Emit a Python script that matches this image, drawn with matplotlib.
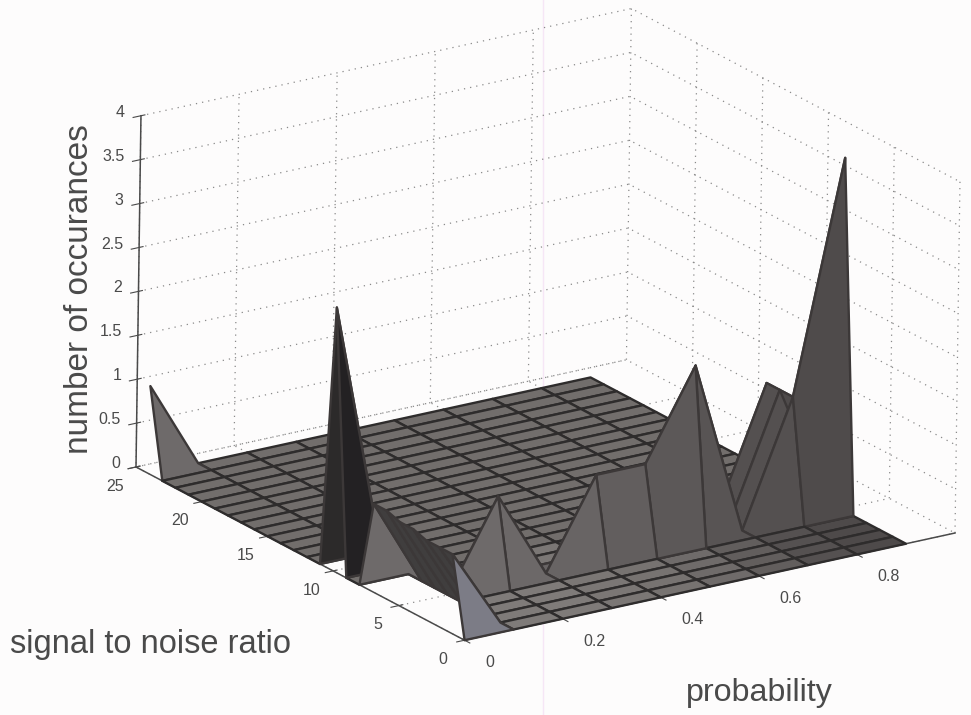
import matplotlib
matplotlib.use("Agg")
import matplotlib.pyplot as plt
from matplotlib.colors import to_rgba
from matplotlib.lines import Line2D
from mpl_toolkits.mplot3d import proj3d
import numpy as np

plt.rcParams['font.family'] = ['Liberation Sans', 'DejaVu Sans']
plt.rcParams['grid.linestyle'] = (0, (1, 4))
plt.rcParams['grid.color'] = '#8a8a8a'
plt.rcParams['grid.linewidth'] = 0.9
plt.rcParams['axes.edgecolor'] = '#4a4a4a'
plt.rcParams['axes.linewidth'] = 1.1
plt.rcParams['xtick.color'] = '#4a4a4a'
plt.rcParams['ytick.color'] = '#4a4a4a'

# values
probability = [0.0, 0.1, 0.2, 0.3, 0.4, 0.5, 0.6, 0.7, 0.8, 0.9]
snr = list(range(25))
occurrences = [
    [0, 0, 0, 0, 0, 0, 0, 0, 0, 0],
    [0.9, 0, 0, 0, 0, 0, 0, 0, 0, 0],
    [0.9, 0, 0, 0, 0, 0, 0, 0, 0, 0],
    [0.9, 0, 0, 0, 0, 0, 0, 0, 0, 0],
    [0.95, 0, 0, 0, 0, 0, 0, 0, 0, 0],
    [0.95, 0, 1, 0, 1, 1, 2, 0, 1.4, 4],
    [1, 0, 0, 0, 0, 0, 0, 0, 1.4, 0],
    [1, 0, 0, 0, 0, 0, 0, 0, 1.4, 0],
    [0, 0, 0, 0, 0, 0, 0, 0, 0, 0],
    [0, 0, 0, 0, 0, 0, 0, 0, 0, 0],
    [3, 0, 0, 0, 0, 0, 0, 0, 0, 0],
    [0, 0, 0, 0, 0, 0, 0, 0, 0, 0],
    [0, 0, 0, 0, 0, 0, 0, 0, 0, 0],
    [0, 0, 0, 0, 0, 0, 0, 0, 0, 0],
    [0, 0, 0, 0, 0, 0, 0, 0, 0, 0],
    [0, 0, 0, 0, 0, 0, 0, 0, 0, 0],
    [0, 0, 0, 0, 0, 0, 0, 0, 0, 0],
    [0, 0, 0, 0, 0, 0, 0, 0, 0, 0],
    [0, 0, 0, 0, 0, 0, 0, 0, 0, 0],
    [0, 0, 0, 0, 0, 0, 0, 0, 0, 0],
    [0, 0, 0, 0, 0, 0, 0, 0, 0, 0],
    [0, 0, 0, 0, 0, 0, 0, 0, 0, 0],
    [0, 0, 0, 0, 0, 0, 0, 0, 0, 0],
    [0, 0, 0, 0, 0, 0, 0, 0, 0, 0],
    [1, 0, 0, 0, 0, 0, 0, 0, 0, 0],
]
x_ticks = [0, 0.2, 0.4, 0.6, 0.8]
x_tick_labels = ['0', '0.2', '0.4', '0.6', '0.8']
y_ticks = [0, 5, 10, 15, 20, 25]
z_ticks = [0, 0.5, 1, 1.5, 2, 2.5, 3, 3.5, 4]
z_tick_labels = ['0', '0.5', '1', '1.5', '2', '2.5', '3', '3.5', '4']

# the scan gets darker towards the front right corner
floor_shades = ['#7f7b79', '#7f7b79', '#7f7b79', '#7b7775', '#777371', '#6f6b6a', '#625e5d', '#555151', '#4e4a4a']
raised_shades = ['#6e6a6a', '#6e6a6a', '#6c6868', '#686464', '#625e5e', '#5c5858', '#585454', '#545050', '#4f4b4b']
back_floor = '#726e6c'

W, H = 971, 715
paper = '#fdfcfc'

fig = plt.figure(figsize=(W / 100, H / 100), dpi=100, facecolor=paper)
ax = fig.add_axes([0, 0, 1, 1], projection='3d', proj_type='ortho', facecolor='none')
ax.view_init(elev=20.17, azim=-124.1, roll=-0.81)
ax.set_box_aspect((590, 590, 374))

X, Y = np.meshgrid(probability, snr)
Z = np.array(occurrences, dtype=float)

colors = np.zeros(Z.shape + (4,))
edges = np.zeros((Z.shape[0] - 1, Z.shape[1] - 1, 4))
for i in range(Z.shape[0] - 1):
    for j in range(Z.shape[1] - 1):
        if Z[i:i + 2, j:j + 2].max() > 0:
            colors[i, j] = to_rgba(raised_shades[j])
            edges[i, j] = to_rgba('#3c3838')
        else:
            colors[i, j] = to_rgba(floor_shades[j] if i < 8 else back_floor)
            edges[i, j] = to_rgba('#2e2c2c')
colors[9, 0] = to_rgba('#232123')
colors[10, 0] = to_rgba('#2c2a2a')
colors[1:7, 0] = to_rgba('#403e3e')
colors[0, 0] = to_rgba('#7c7c86')

surf = ax.plot_surface(X, Y, Z, rstride=1, cstride=1, facecolors=colors, shade=False,
                       antialiased=True)
surf.set_edgecolor(edges.reshape(-1, 4))
surf.set_linewidth(1.7)

ax.set_xlim(0, 1, view_margin=0)
ax.set_ylim(0, 25, view_margin=0)
ax.set_zlim(0, 4, view_margin=0)
ax.set_xticks(x_ticks)
ax.set_xticklabels(x_tick_labels)
ax.set_yticks(y_ticks)
ax.set_zticks(z_ticks)
ax.set_zticklabels(z_tick_labels)
ax.tick_params(axis='x', labelsize=11.5, labelcolor='#4a4a4a', pad=6)
ax.tick_params(axis='y', labelsize=11.5, labelcolor='#4a4a4a', pad=7)
ax.tick_params(axis='z', labelsize=11.5, labelcolor='#4a4a4a', pad=-3.5)


def nudge(labels, dx, dy, **align):
    # the 3d axis only takes a pad along the tick, so shift the labels some pixels more
    for label in labels:
        label.set(**align)
        place = label.set_position

        def shifted(xy, place=place):
            px = ax.transData.transform(xy) + (dx, -dy)
            place(ax.transData.inverted().transform(px))

        label.set_position = shifted


nudge(ax.xaxis.get_ticklabels(), 7, 8, ha='left', va='bottom')
nudge(ax.yaxis.get_ticklabels(), 1, 6, va='bottom')
nudge(ax.zaxis.get_ticklabels(), -5, 5, ha='right', va='bottom')

for axis in (ax.xaxis, ax.yaxis, ax.zaxis):
    axis.pane.set_facecolor('none')
    axis.pane.set_edgecolor('none')


def corner_px(x, y, z):
    px, py, _ = proj3d.proj_transform(x, y, z, ax.get_proj())
    return ax.transData.transform((px, py))


# fit the box onto the floor corners seen in the picture
target_left = (136, 467)
target_right = (955, 533)
size = 800.0
ax.set_position([0.1, 0.1, size / W, size / H])
fig.canvas.draw()
left = corner_px(0, 25, 0)
right = corner_px(1, 0, 0)
k = (target_right[0] - target_left[0]) / (right[0] - left[0])
box = ax.get_position()
cx, cy = (box.x0 + box.width / 2) * W, (box.y0 + box.height / 2) * H
mid = (left + right) / 2
mx = cx + k * (mid[0] - cx)
my = cy + k * (mid[1] - cy)
cx += (target_left[0] + target_right[0]) / 2 - mx
cy += H - (target_left[1] + target_right[1]) / 2 - my
size *= k
ax.set_position([(cx - size / 2) / W, (cy - size / 2) / H, size / W, size / H])

fig.text(80 / W, 1 - 289 / H, 'number of occurances', rotation=90, ha='center', va='center',
         fontsize=24, color='#4a4a4a')
fig.text(10 / W, 1 - 644 / H, 'signal to noise ratio', ha='left', va='center',
         fontsize=23.5, color='#4a4a4a')
fig.text(686 / W, 1 - 693 / H, 'probability', ha='left', va='center',
         fontsize=23.2, color='#4a4a4a')

# faint fold mark of the scan
fig.add_artist(Line2D([543 / W, 543 / W], [0, 1], color='#f6e6f6', lw=1, zorder=-1))

fig.savefig('out.png', dpi=100, facecolor=paper)
